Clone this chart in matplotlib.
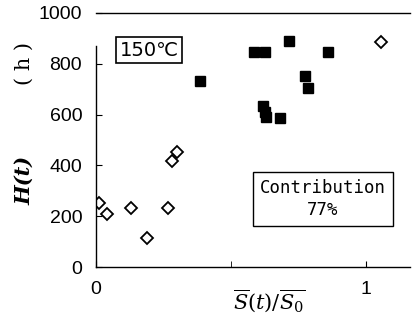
import matplotlib
matplotlib.use("Agg")
import matplotlib.pyplot as plt

# open diamonds
dia_x = [0.01, 0.042, 0.13, 0.19, 0.265, 0.28, 0.3, 1.055]
dia_y = [251, 210, 231, 113, 231, 418, 451, 887]

# filled squares
sq_x = [0.385, 0.585, 0.625, 0.715, 0.86, 0.775, 0.785, 0.62, 0.626, 0.628, 0.68]
sq_y = [733, 845, 845, 890, 845, 753, 706, 633, 612, 592, 585]

xticks = [0, 1]
yticks = [0, 200, 400, 600, 800, 1000]

plt.rcParams['font.family'] = ['Liberation Sans', 'DejaVu Sans']
plt.rcParams['mathtext.fontset'] = 'dejavuserif'

fig = plt.figure(figsize=(4.14, 3.31), dpi=100)
ax = fig.add_axes([0.232, 0.193, 0.758, 0.768])

ax.plot(sq_x, sq_y, 's', color='black', markersize=6.5, linestyle='none')
ax.plot(dia_x, dia_y, 'D', markerfacecolor='white', markeredgecolor='black',
        markeredgewidth=1.3, markersize=5.8, linestyle='none')

ax.set_xlim(0, 1.163)
ax.set_ylim(0, 1000)
ax.set_xticks(xticks)
ax.set_yticks(yticks)
ax.set_xticks([0.5], minor=True)
ax.tick_params(direction='in', length=4, labelsize=14, pad=10)
ax.tick_params(which='minor', direction='in', length=4)
ax.spines['right'].set_visible(False)
ax.spines['left'].set_bounds(0, 870)
for s in ['left', 'bottom', 'top']:
    ax.spines[s].set_linewidth(1.0)

ax.text(0.196, 854, '150℃', fontsize=14, va='center', ha='center',
        family=['DejaVu Sans'],
        bbox=dict(boxstyle='square,pad=0.2', facecolor='white', edgecolor='black', linewidth=1.2))
ax.text(0.84, 268, 'Contribution\n77%', fontsize=12.5, va='center', ha='center',
        linespacing=1.35, family='DejaVu Sans Mono',
        bbox=dict(boxstyle='square,pad=0.4', facecolor='white', edgecolor='black', linewidth=1.0))

fig.text(0.65, 0.09, r'$\overline{S}(t)/\overline{S_0}$', fontsize=15, ha='center', va='center')
fig.text(0.058, 0.456, 'H(t)', fontsize=15, rotation=90, ha='center', va='center',
         family='DejaVu Serif', style='italic', weight='bold')
fig.text(0.058, 0.807, '( h )', fontsize=15, rotation=90, ha='center', va='center', family='serif')

fig.savefig('out.png', dpi=100)
